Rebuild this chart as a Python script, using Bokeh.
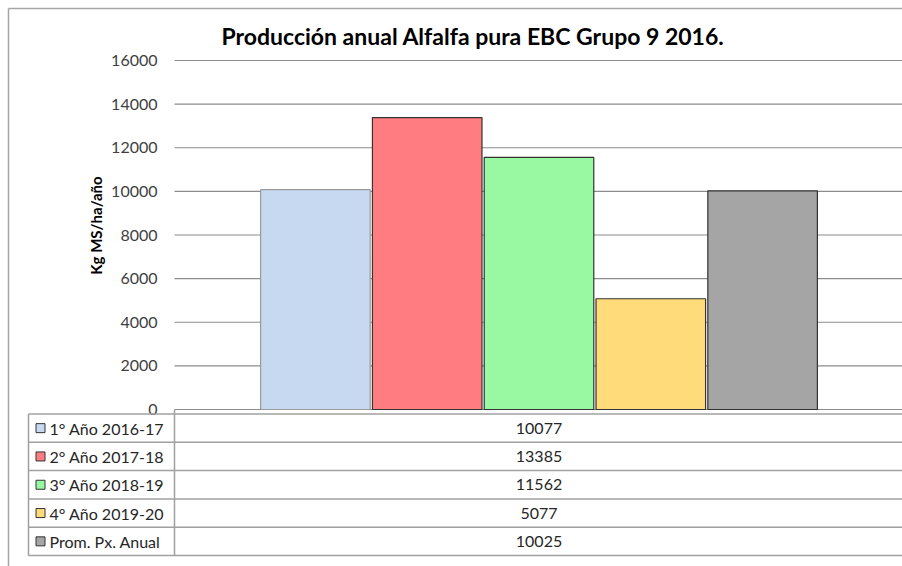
from bokeh.plotting import figure
from bokeh.models import Range1d, ColumnDataSource
from bokeh.core.properties import value
from bokeh.embed import file_html
from bokeh.resources import INLINE
import math

# ---- data ----
title_text = "Producción anual Alfalfa pura EBC Grupo 9 2016."
y_label = "Kg MS/ha/año"
series = ["1° Año 2016-17", "2° Año 2017-18", "3° Año 2018-19", "4° Año 2019-20", "Prom. Px. Anual"]
values = [10077, 13385, 11562, 5077, 10025]
colors = ["#C6D9F1", "#FF7C80", "#98F9A2", "#FFDB7A", "#A5A5A5"]
edge_colors = ["#9A9A9A", "#333333", "#333333", "#333333", "#333333"]
y_ticks = [0, 2000, 4000, 6000, 8000, 10000, 12000, 14000, 16000]

FONT = "Lato"
W, H = 902, 566

# layout geometry (page pixels)
PLOT_LEFT, PLOT_TOP, PLOT_BOTTOM = 174, 60, 409
BAR0_CENTER, BAR_STEP = 314.9, 111.8
TABLE_LEFT, TABLE_TOP, ROW_H = 28, 413.5, 28.3

# value ranges mapped so that 0 -> PLOT_BOTTOM, 16000 -> PLOT_TOP
ymax = y_ticks[-1]
upp = ymax / (PLOT_BOTTOM - PLOT_TOP)
y_start = -(H - PLOT_BOTTOM) * upp
y_end = ymax + PLOT_TOP * upp
x_start = -BAR0_CENTER / BAR_STEP
x_end = (W - BAR0_CENTER) / BAR_STEP
grid_left = (PLOT_LEFT - BAR0_CENTER) / BAR_STEP

p = figure(width=W, height=H, output_backend="svg", toolbar_location=None,
           x_range=Range1d(x_start, x_end), y_range=Range1d(y_start, y_end),
           x_axis_location=None, y_axis_location=None,
           min_border=0, min_border_left=0, min_border_right=0,
           min_border_top=0, min_border_bottom=0,
           background_fill_color="white", border_fill_color="white")
p.outline_line_color = None
p.xgrid.visible = False
p.ygrid.visible = False
p.extra_x_ranges = {"px": Range1d(0, W)}
p.extra_y_ranges = {"px": Range1d(H, 0)}

# chart border (left/top)
p.segment(x0=[8, 8], y0=[8, 8], x1=[W, 8], y1=[8, H], line_color="#A6A6A6",
          line_width=1.5, x_range_name="px", y_range_name="px")

# gridlines + tick labels
p.segment(x0=[grid_left] * len(y_ticks), x1=[x_end] * len(y_ticks), y0=y_ticks,
          y1=y_ticks, line_color="#8C8C8C", line_width=1.2)
p.text(x=[grid_left] * len(y_ticks), y=y_ticks, text=[str(t) for t in y_ticks],
       x_offset=-17, text_align="right", text_baseline="middle",
       text_font=value(FONT), text_font_size="16px", text_color="#404040")

# bars
idx = list(range(len(values)))
src = ColumnDataSource(dict(x=idx, top=values, fill=colors, edge=edge_colors))
p.vbar(x="x", top="top", bottom=0, width=0.98, fill_color="fill", line_color="edge",
       line_width=1.2, source=src)

# y axis title
p.text(x=[95], y=[225], text=[y_label], angle=math.pi / 2, text_align="center",
       text_baseline="middle", text_font=value(FONT), text_font_size="15px",
       text_font_style="bold", text_color="#000000",
       x_range_name="px", y_range_name="px")

# chart title
p.text(x=[472.5], y=[35], text=[title_text], text_align="center",
       text_baseline="middle", text_font=value(FONT), text_font_size="23px",
       text_font_style="bold", text_color="#000000",
       x_range_name="px", y_range_name="px")

# ---- data table ----
n = len(series)
row_lines = [TABLE_TOP + i * ROW_H for i in range(n + 1)]
p.segment(x0=[TABLE_LEFT] * (n + 1), x1=[W] * (n + 1), y0=row_lines, y1=row_lines,
          line_color="#A0A0A0", line_width=1.5, x_range_name="px", y_range_name="px")
p.segment(x0=[TABLE_LEFT, PLOT_LEFT], x1=[TABLE_LEFT, PLOT_LEFT],
          y0=[TABLE_TOP, PLOT_BOTTOM], y1=[row_lines[-1], row_lines[-1]],
          line_color="#A0A0A0", line_width=1.5, x_range_name="px", y_range_name="px")

row_mid = [TABLE_TOP + (i + 0.5) * ROW_H for i in range(n)]
tsrc = ColumnDataSource(dict(y=row_mid, fill=colors, label=series,
                             vtext=[str(v) for v in values]))
p.rect(x=40, y="y", width=9, height=9, width_units="screen", height_units="screen",
       fill_color="fill", line_color="#333333", line_width=1, source=tsrc,
       x_range_name="px", y_range_name="px")
p.text(x=49, y="y", text="label", text_font=value(FONT), text_font_size="16px",
       text_color="#262626", text_baseline="middle", text_align="left", source=tsrc,
       x_range_name="px", y_range_name="px")
p.text(x=538.5, y="y", text="vtext", text_font=value(FONT), text_font_size="16px",
       text_color="#262626", text_baseline="middle", text_align="center", source=tsrc,
       x_range_name="px", y_range_name="px")

open("out.html", "w").write(file_html(p, INLINE))
